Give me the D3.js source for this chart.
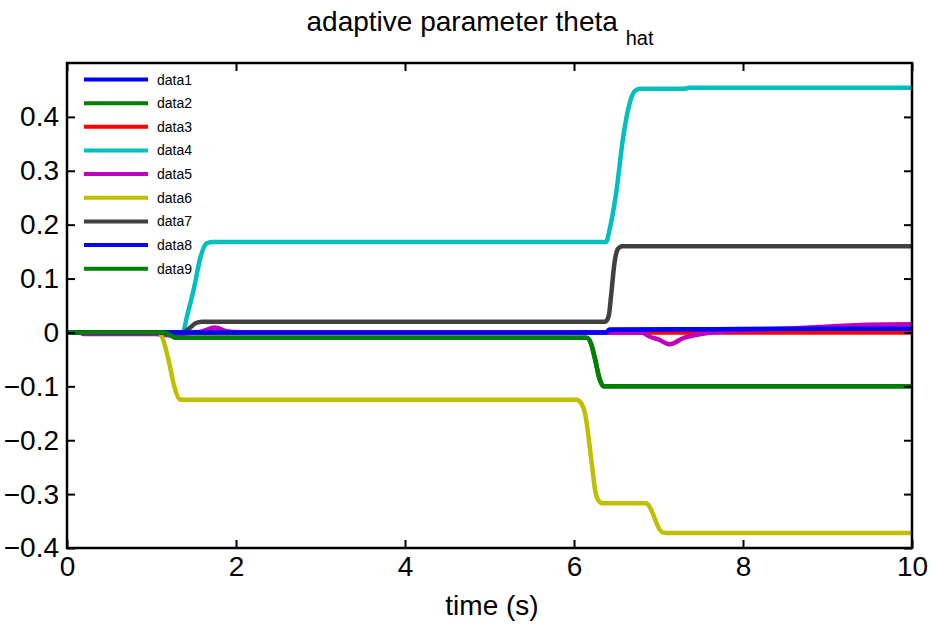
<!DOCTYPE html>
<html>
<head>
<meta charset="utf-8">
<script src="https://cdn.jsdelivr.net/npm/d3@7"></script>
<style>
  body { margin: 0; background: #fff; }
  text { font-family: "Liberation Sans", Arial, sans-serif; fill: #000; }
</style>
</head>
<body>
<script>
// series as [time, value] pairs
const data1 = [[0, 0], [6.38, 0], [6.42, 0.005], [10, 0.007]];
const data2 = [[0, 0], [1.15, 0], [1.22, -0.005], [1.3, -0.01], [6.15, -0.01], [6.2, -0.02],
    [6.25, -0.05], [6.3, -0.085], [6.35, -0.1], [10, -0.1]];
const data3 = [[0, 0], [10, 0]];
const data4 = [[0, 0], [1.37, 0], [1.42, 0.03], [1.5, 0.08], [1.58, 0.14], [1.65, 0.165], [1.72, 0.168],
    [6.38, 0.168], [6.42, 0.19], [6.5, 0.26], [6.58, 0.36], [6.65, 0.42], [6.72, 0.448], [6.78, 0.452],
    [7.3, 0.452], [7.36, 0.454], [10, 0.454]];
const data5 = [[0, 0], [0.15, 0], [0.2, -0.003], [1.05, -0.003], [1.2, -0.005], [1.4, -0.002], [1.6, 0.002],
    [1.75, 0.009], [1.9, 0.002], [2.1, 0], [6.8, 0], [6.9, -0.008], [7.0, -0.013], [7.13, -0.022],
    [7.3, -0.01], [7.5, -0.003], [7.8, 0.002], [8.5, 0.007], [8.9, 0.01], [9.4, 0.014], [10, 0.015]];
const data6 = [[0, 0], [1.08, 0], [1.13, -0.01], [1.2, -0.05], [1.27, -0.1], [1.33, -0.124], [1.38, -0.125],
    [6.03, -0.125], [6.08, -0.13], [6.13, -0.15], [6.21, -0.243], [6.25, -0.293], [6.29, -0.312],
    [6.34, -0.317], [6.85, -0.317], [6.9, -0.325], [6.95, -0.343], [7.0, -0.362], [7.05, -0.371],
    [7.1, -0.372], [10, -0.372]];
const data7 = [[0, 0], [1.37, 0], [1.45, 0.008], [1.52, 0.017], [1.6, 0.02], [6.37, 0.02], [6.41, 0.03],
    [6.44, 0.07], [6.48, 0.13], [6.52, 0.155], [6.57, 0.16], [10, 0.16]];
const data8 = data1;
const data9 = data2;

const seriesNames = ["data1", "data2", "data3", "data4", "data5", "data6", "data7", "data8", "data9"];
const seriesData = [data1, data2, data3, data4, data5, data6, data7, data8, data9];
const seriesColors = ["#0000ff", "#008000", "#ff0000", "#00bfbf", "#bf00bf", "#bfbf00", "#404040", "#0000ff", "#008000"];

const xTicks = [0, 2, 4, 6, 8, 10];
const yTicks = [-0.4, -0.3, -0.2, -0.1, 0, 0.1, 0.2, 0.3, 0.4];

const width = 935;
const height = 625;
const margin = { top: 63, right: 23, bottom: 77, left: 67 };

const x = d3.scaleLinear()
    .domain([0, 10])
    .range([margin.left, width - margin.right]);
const y = d3.scaleLinear()
    .domain([-0.4, 0.5])
    .range([height - margin.bottom, margin.top]);

let svg = d3.select("body")
    .append("svg")
    .attr("width", width)
    .attr("height", height);

const line = d3.line()
    .x(d => x(d[0]))
    .y(d => y(d[1]))
    .curve(d3.curveMonotoneX);

// plot lines
svg.append("g")
    .selectAll("path")
    .data(seriesData)
    .enter()
    .append("path")
    .attr("d", line)
    .attr("fill", "none")
    .attr("stroke", (d, i) => seriesColors[i])
    .attr("stroke-width", 4.5)
    .attr("stroke-linejoin", "round");

const tickFmt = d => d === 0 ? "0" : d3.format(".1f")(d);

// axes, ticks pointing inward on all sides
const xAxisBottom = d3.axisBottom(x).tickValues(xTicks).tickSizeInner(-8).tickSizeOuter(0).tickPadding(8);
const xAxisTop = d3.axisTop(x).tickValues(xTicks).tickSizeInner(-8).tickSizeOuter(0).tickFormat("");
const yAxisLeft = d3.axisLeft(y).tickValues(yTicks).tickSizeInner(-8).tickSizeOuter(0).tickPadding(8).tickFormat(tickFmt);
const yAxisRight = d3.axisRight(y).tickValues(yTicks).tickSizeInner(-8).tickSizeOuter(0).tickFormat("");

const axes = [
    [xAxisBottom, "translate(0," + (height - margin.bottom) + ")"],
    [xAxisTop, "translate(0," + margin.top + ")"],
    [yAxisLeft, "translate(" + margin.left + ",0)"],
    [yAxisRight, "translate(" + (width - margin.right) + ",0)"]
];
axes.forEach(a => {
    const g = svg.append("g").attr("transform", a[1]).call(a[0]);
    g.select(".domain").remove();
    g.selectAll("line").attr("stroke", "#000").attr("stroke-width", 2);
    g.selectAll("text").style("font-size", "28px").attr("fill", "#000");
});

// axes box
svg.append("rect")
    .attr("x", margin.left)
    .attr("y", margin.top)
    .attr("width", width - margin.left - margin.right)
    .attr("height", height - margin.top - margin.bottom)
    .attr("fill", "none")
    .attr("stroke", "#000")
    .attr("stroke-width", 2.5);

// title with subscript
const title = svg.append("text")
    .attr("x", 480)
    .attr("y", 31)
    .attr("text-anchor", "middle")
    .style("font-size", "28px");
title.append("tspan").text("adaptive parameter theta ");
title.append("tspan").attr("dy", 14).style("font-size", "20px").text("hat");

// x label
svg.append("text")
    .attr("x", 492)
    .attr("y", 615)
    .attr("text-anchor", "middle")
    .style("font-size", "28px")
    .text("time (s)");

// legend
const legend = svg.append("g");
seriesNames.forEach((name, i) => {
    const ly = 79.5 + i * 23.65;
    legend.append("line")
        .attr("x1", 84).attr("x2", 148)
        .attr("y1", ly).attr("y2", ly)
        .attr("stroke", seriesColors[i])
        .attr("stroke-width", 4);
    legend.append("text")
        .attr("x", 157)
        .attr("y", ly + 5)
        .style("font-size", "14px")
        .text(name);
});
</script>
</body>
</html>
